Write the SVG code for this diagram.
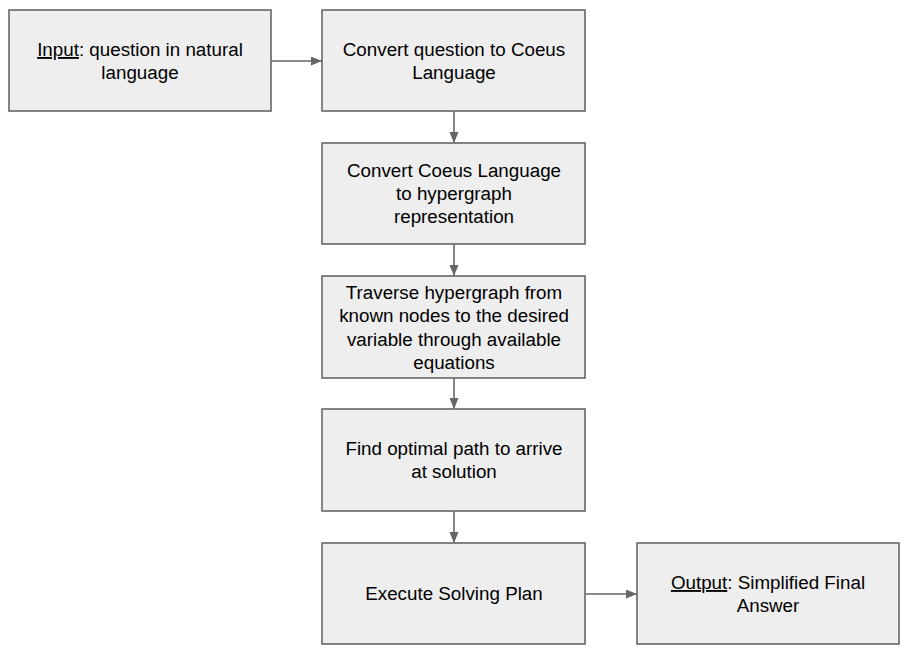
<svg xmlns="http://www.w3.org/2000/svg" width="910" height="656" viewBox="0 0 910 656">
<style>
.box{fill:#eeeeee;stroke:#666666;stroke-width:1.6}
.t{font-family:"Liberation Sans",Arial,sans-serif;font-size:18.8px;fill:#000;text-anchor:middle}
.c{stroke:#666666;stroke-width:1.6;fill:none}
</style>
<defs>
<marker id="ah" markerWidth="11" markerHeight="9" refX="11" refY="4.5" orient="auto" markerUnits="userSpaceOnUse">
<path d="M0,0 L11,4.5 L0,9 Z" fill="#666666"/>
</marker>
</defs>
<rect width="910" height="656" fill="#ffffff"/>
<g id="connectors">
<line class="c" x1="271" y1="61" x2="322" y2="61" marker-end="url(#ah)"/>
<line class="c" x1="454" y1="111" x2="454" y2="143" marker-end="url(#ah)"/>
<line class="c" x1="454" y1="244" x2="454" y2="276" marker-end="url(#ah)"/>
<line class="c" x1="454" y1="378" x2="454" y2="409" marker-end="url(#ah)"/>
<line class="c" x1="454" y1="511" x2="454" y2="543" marker-end="url(#ah)"/>
<line class="c" x1="585" y1="594" x2="637" y2="594" marker-end="url(#ah)"/>
</g>
<g id="n1">
<rect class="box" x="9" y="10" width="262" height="101"/>
<text class="t" x="140" y="56"><tspan text-decoration="underline">Input</tspan>: question in natural</text>
<text class="t" x="140" y="79">language</text>
</g>
<g id="n2">
<rect class="box" x="322" y="10" width="263" height="101"/>
<text class="t" x="454" y="56">Convert question to Coeus</text>
<text class="t" x="454" y="79">Language</text>
</g>
<g id="n3">
<rect class="box" x="322" y="143" width="263" height="101"/>
<text class="t" x="454" y="177">Convert Coeus Language</text>
<text class="t" x="454" y="200">to hypergraph</text>
<text class="t" x="454" y="223">representation</text>
</g>
<g id="n4">
<rect class="box" x="322" y="276" width="263" height="102"/>
<text class="t" x="454" y="299">Traverse hypergraph from</text>
<text class="t" x="454" y="322">known nodes to the desired</text>
<text class="t" x="454" y="346">variable through available</text>
<text class="t" x="454" y="369">equations</text>
</g>
<g id="n5">
<rect class="box" x="322" y="409" width="263" height="102"/>
<text class="t" x="454" y="455">Find optimal path to arrive</text>
<text class="t" x="454" y="478">at solution</text>
</g>
<g id="n6">
<rect class="box" x="322" y="543" width="263" height="101"/>
<text class="t" x="454" y="600">Execute Solving Plan</text>
</g>
<g id="n7">
<rect class="box" x="637" y="543" width="262" height="101"/>
<text class="t" x="768" y="589"><tspan text-decoration="underline">Output</tspan>: Simplified Final</text>
<text class="t" x="768" y="612">Answer</text>
</g>
</svg>
